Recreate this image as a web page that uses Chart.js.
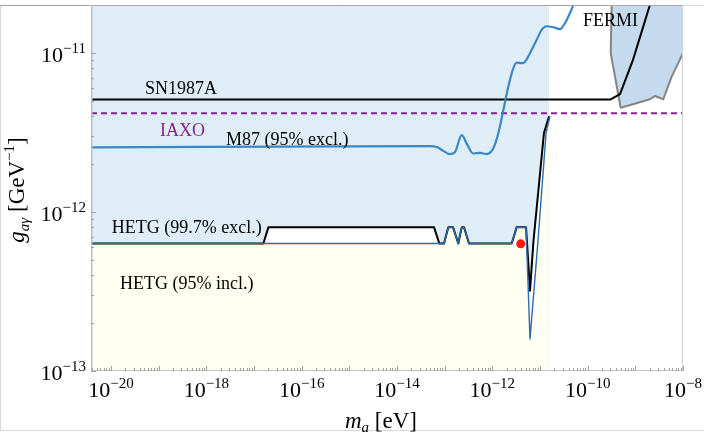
<!DOCTYPE html>
<html lang="en">
<head>
<meta charset="UTF-8" />
<title>Axion-photon coupling limits</title>
<script src="https://cdn.jsdelivr.net/npm/chart.js"></script>
<style>
  html, body { margin: 0; padding: 0; background: #ffffff; overflow: hidden; }
  canvas { display: block; }
</style>
</head>
<body>
<canvas id="limits" width="706" height="436"></canvas>
<script>
// axis ranges
const massMin = 3.8e-21, massMax = 1e-8;
const gMin = 1e-13, gMax = 2e-11;

// decade exponents that carry a label
const massLabelExps = [-20, -18, -16, -14, -12, -10, -8];
const gLabelExps = [-13, -12, -11];

// SN1987A
const snMass = [3.8e-21, 3.04e-10, 4.77e-10, 8.93e-10, 2.03e-9, 2.24e-9];
const snG = [5.1e-12, 5.1e-12, 5.51e-12, 9.04e-12, 2.01e-11, 2.22e-11];

// IAXO projection
const iaxoMass = [3.8e-21, 1e-8];
const iaxoG = [4.18e-12, 4.18e-12];

// M87 (95% excl.)
const m87Mass = [3.8e-21, 4.93e-14, 6.81e-14, 9.37e-14, 1.29e-13, 1.65e-13, 2.28e-13, 2.9e-13, 4.0e-13,
  5.52e-13, 7.62e-13, 1.05e-12, 1.33e-12, 1.7e-12, 2.16e-12, 2.75e-12, 3.24e-12, 4.13e-12, 4.85e-12,
  6.17e-12, 8.53e-12, 1.09e-11, 1.38e-11, 1.9e-11, 2.63e-11, 3.35e-11, 4.26e-11, 5.0e-11, 5.4e-11];
const m87G = [2.55e-12, 2.59e-12, 2.56e-12, 2.42e-12, 2.31e-12, 2.38e-12, 3.04e-12, 2.69e-12, 2.33e-12,
  2.35e-12, 2.31e-12, 2.51e-12, 3.11e-12, 4.36e-12, 6.13e-12, 8.0e-12, 8.69e-12, 8.61e-12, 8.81e-12,
  9.96e-12, 1.21e-11, 1.4e-11, 1.47e-11, 1.45e-11, 1.41e-11, 1.54e-11, 1.78e-11, 2.01e-11, 2.2e-11];

// HETG (99.7% excl.)
const hetgExclMass = [3.8e-21, 1.57e-17, 2.0e-17, 5.98e-14, 7.73e-14, 9.69e-14, 1.19e-13, 1.5e-13, 1.93e-13,
  2.28e-13, 2.55e-13, 3.24e-13, 2.55e-12, 3.24e-12, 5.09e-12, 6.17e-12, 7.31e-12, 1.21e-11, 1.55e-11];
const hetgExclG = [6.33e-13, 6.33e-13, 8.0e-13, 8.0e-13, 6.33e-13, 6.33e-13, 8.0e-13, 8.0e-13, 6.33e-13,
  8.0e-13, 8.0e-13, 6.33e-13, 6.33e-13, 8.0e-13, 8.0e-13, 3.2e-13, 6.61e-13, 3.13e-12, 4.0e-12];

// HETG (95% incl.)
const hetgInclMass = [3.8e-21, 9.69e-14, 1.19e-13, 1.5e-13, 1.93e-13, 2.28e-13, 2.55e-13, 3.24e-13,
  2.55e-12, 3.24e-12, 5.09e-12, 6.17e-12, 9.08e-12, 1.34e-11, 1.62e-11];
const hetgInclG = [6.33e-13, 6.33e-13, 8.0e-13, 8.0e-13, 6.33e-13, 8.0e-13, 8.0e-13, 6.33e-13,
  6.33e-13, 8.0e-13, 8.0e-13, 1.59e-13, 6.61e-13, 3.13e-12, 4.0e-12];

// best-fit point
const bestMass = [3.94e-12];
const bestG = [6.3e-13];

// FERMI region (outline, then closed along the frame)
const fermiMass = [3.19e-10, 3.04e-10, 4.93e-10, 2.03e-9, 2.59e-9, 3.86e-9, 5.79e-9, 1e-8];
const fermiG = [2.0e-11, 9.96e-12, 4.52e-12, 5.11e-12, 5.36e-12, 5.11e-12, 7.09e-12, 9.96e-12];

// text labels (left edge, baseline)
const notes = [
  { text: 'SN1987A', m: 5.18e-20, g: 5.51e-12, color: '#000000' },
  { text: 'IAXO', m: 1.07e-19, g: 2.99e-12, color: '#8b1f8e' },
  { text: 'M87 (95% excl.)', m: 2.59e-18, g: 2.63e-12, color: '#000000' },
  { text: 'HETG (99.7% excl.)', m: 1.035e-20, g: 7.35e-13, color: '#000000' },
  { text: 'HETG (95% incl.)', m: 1.55e-20, g: 3.29e-13, color: '#000000' },
  { text: 'FERMI', m: 7.98e-11, g: 1.47e-11, color: '#000000' }
];

const pts = (xs, ys) => xs.map((v, i) => ({ x: v, y: ys[i] }));

const logTicks = (min, max) => {
  const out = [];
  for (let k = Math.floor(Math.log10(min)); k <= Math.ceil(Math.log10(max)); k++) {
    for (let m = 1; m <= 9; m++) {
      const v = Number(m + 'e' + k);
      if (v >= min * 0.999 && v <= max * 1.001) out.push({ value: v, major: m === 1 });
    }
  }
  return out;
};

const SERIF = '"Liberation Serif", "DejaVu Serif", serif';

function runsWidth(ctx, runs) {
  let w = 0;
  runs.forEach(r => { ctx.font = r.font; w += ctx.measureText(r.t).width; });
  return w;
}
function drawRuns(ctx, runs, x, y) {
  let cx = x;
  runs.forEach(r => {
    ctx.font = r.font;
    ctx.fillText(r.t, cx, y + (r.dy || 0));
    cx += ctx.measureText(r.t).width;
  });
}
const powRuns = e => [
  { t: '10', font: '22px ' + SERIF },
  { t: '\u2212' + Math.abs(e), font: '15px ' + SERIF, dy: -9 }
];

const axesPlugin = {
  id: 'mmaAxes',
  afterDraw(chart) {
    const { ctx, chartArea: a, scales: { x, y } } = chart;
    ctx.save();
    const line = (x1, y1, x2, y2) => { ctx.beginPath(); ctx.moveTo(x1, y1); ctx.lineTo(x2, y2); ctx.stroke(); };

    // outer border of the figure
    ctx.lineWidth = 1;
    ctx.strokeStyle = '#d8d8d8';
    line(0.5, 5.5, 0.5, 430.5);
    line(0, 430.5, 704, 430.5);
    line(a.right, 5.5, 704, 5.5);

    // frame
    ctx.strokeStyle = '#a6a6a6';
    line(0, a.top + 0.5, a.right, a.top + 0.5);
    ctx.strokeStyle = '#d2d2d2';
    line(a.right - 0.5, a.top, a.right - 0.5, a.bottom);
    ctx.strokeStyle = '#c2c6c8';
    line(a.left, a.bottom - 0.5, a.right, a.bottom - 0.5);
    ctx.lineWidth = 1.5;
    ctx.strokeStyle = '#b6c2c8';
    line(a.left + 0.75, a.top, a.left + 0.75, a.bottom);

    // inward ticks
    ctx.lineWidth = 1;
    ctx.strokeStyle = '#a0a0a0';
    x.ticks.forEach(t => {
      const px = Math.round(x.getPixelForValue(t.value)) + 0.5;
      line(px, a.bottom, px, a.bottom - (t.major ? 5 : 3));
    });
    y.ticks.forEach(t => {
      const py = Math.round(y.getPixelForValue(t.value)) + 0.5;
      if (py > a.top + 2) line(a.left, py, a.left + (t.major ? 5 : 3), py);
    });

    // tick labels
    ctx.fillStyle = '#000000';
    ctx.textBaseline = 'alphabetic';
    ctx.textAlign = 'left';
    massLabelExps.forEach(e => {
      const runs = powRuns(e);
      const px = x.getPixelForValue(Math.pow(10, e));
      drawRuns(ctx, runs, px - runsWidth(ctx, runs) / 2, a.bottom + 26);
    });
    gLabelExps.forEach(e => {
      const runs = powRuns(e);
      const py = y.getPixelForValue(Math.pow(10, e));
      drawRuns(ctx, runs, a.left - 5 - runsWidth(ctx, runs), py + 9);
    });

    // axis titles
    const xTitle = [
      { t: 'm', font: 'italic 23px ' + SERIF },
      { t: 'a', font: 'italic 15px ' + SERIF, dy: 4 },
      { t: ' [eV]', font: '23px ' + SERIF }
    ];
    drawRuns(ctx, xTitle, 381 - runsWidth(ctx, xTitle) / 2, 427.5);

    const yTitle = [
      { t: 'g', font: 'italic 23px ' + SERIF },
      { t: 'a\u03b3', font: 'italic 15px ' + SERIF, dy: 5 },
      { t: ' [GeV', font: '23px ' + SERIF },
      { t: '\u22121', font: '15px ' + SERIF, dy: -10 },
      { t: ']', font: '23px ' + SERIF }
    ];
    ctx.save();
    ctx.translate(24, 190);
    ctx.rotate(-Math.PI / 2);
    drawRuns(ctx, yTitle, -runsWidth(ctx, yTitle) / 2, 0);
    ctx.restore();

    // curve labels
    ctx.font = '18px ' + SERIF;
    notes.forEach(n => {
      ctx.fillStyle = n.color;
      ctx.fillText(n.text, x.getPixelForValue(n.m), y.getPixelForValue(n.g));
    });
    ctx.restore();
  }
};

const lineBase = { pointRadius: 0, borderJoinStyle: 'round', clip: 0, tension: 0 };

new Chart(document.getElementById('limits'), {
  type: 'line',
  data: {
    datasets: [
      { ...lineBase, label: 'Best fit', data: pts(bestMass, bestG), showLine: false,
        pointRadius: 4.5, pointBackgroundColor: '#ff1414', pointBorderWidth: 0, order: 0 },
      { ...lineBase, label: 'HETG (95% incl.)', data: pts(hetgInclMass, hetgInclG),
        borderColor: '#2e6cab', borderWidth: 1.4, fill: 'start', backgroundColor: '#fefef1', order: 1 },
      { ...lineBase, label: 'HETG (99.7% excl.)', data: pts(hetgExclMass, hetgExclG),
        borderColor: '#000000', borderWidth: 2, fill: 'end', backgroundColor: '#dfeef6', order: 2 },
      { ...lineBase, label: 'M87 (95% excl.)', data: pts(m87Mass, m87G), cubicInterpolationMode: 'monotone',
        borderColor: '#3b87c6', borderWidth: 2.2, fill: false, order: 3 },
      { ...lineBase, label: 'IAXO', data: pts(iaxoMass, iaxoG), borderColor: '#8b1f8e',
        borderWidth: 2, borderDash: [6, 4], fill: false, order: 4 },
      { ...lineBase, label: 'SN1987A', data: pts(snMass, snG), borderColor: '#000000',
        borderWidth: 2, fill: false, order: 5 },
      { ...lineBase, label: 'FERMI edge', data: pts(fermiMass, fermiG), borderColor: '#858585',
        borderWidth: 2, fill: false, order: 6 },
      { ...lineBase, label: 'FERMI', data: pts(fermiMass.concat([massMax]), fermiG.concat([gMax])),
        borderWidth: 0, fill: 'shape', backgroundColor: '#c5daee', order: 7 }
    ]
  },
  options: {
    responsive: false,
    animation: false,
    layout: { padding: { top: 5, right: 23, left: 0, bottom: 0 } },
    plugins: {
      legend: { display: false },
      tooltip: { enabled: false },
      filler: { drawTime: 'beforeDatasetsDraw' }
    },
    scales: {
      x: {
        type: 'logarithmic', min: massMin, max: massMax,
        grid: { display: false }, border: { display: false }, ticks: { display: false },
        afterBuildTicks: s => { s.ticks = logTicks(massMin, massMax); },
        afterFit: s => { s.height = 65; }
      },
      y: {
        type: 'logarithmic', min: gMin, max: gMax,
        grid: { display: false }, border: { display: false }, ticks: { display: false },
        afterBuildTicks: s => { s.ticks = logTicks(gMin, gMax); },
        afterFit: s => { s.width = 91; }
      }
    }
  },
  plugins: [axesPlugin]
});
</script>
</body>
</html>
